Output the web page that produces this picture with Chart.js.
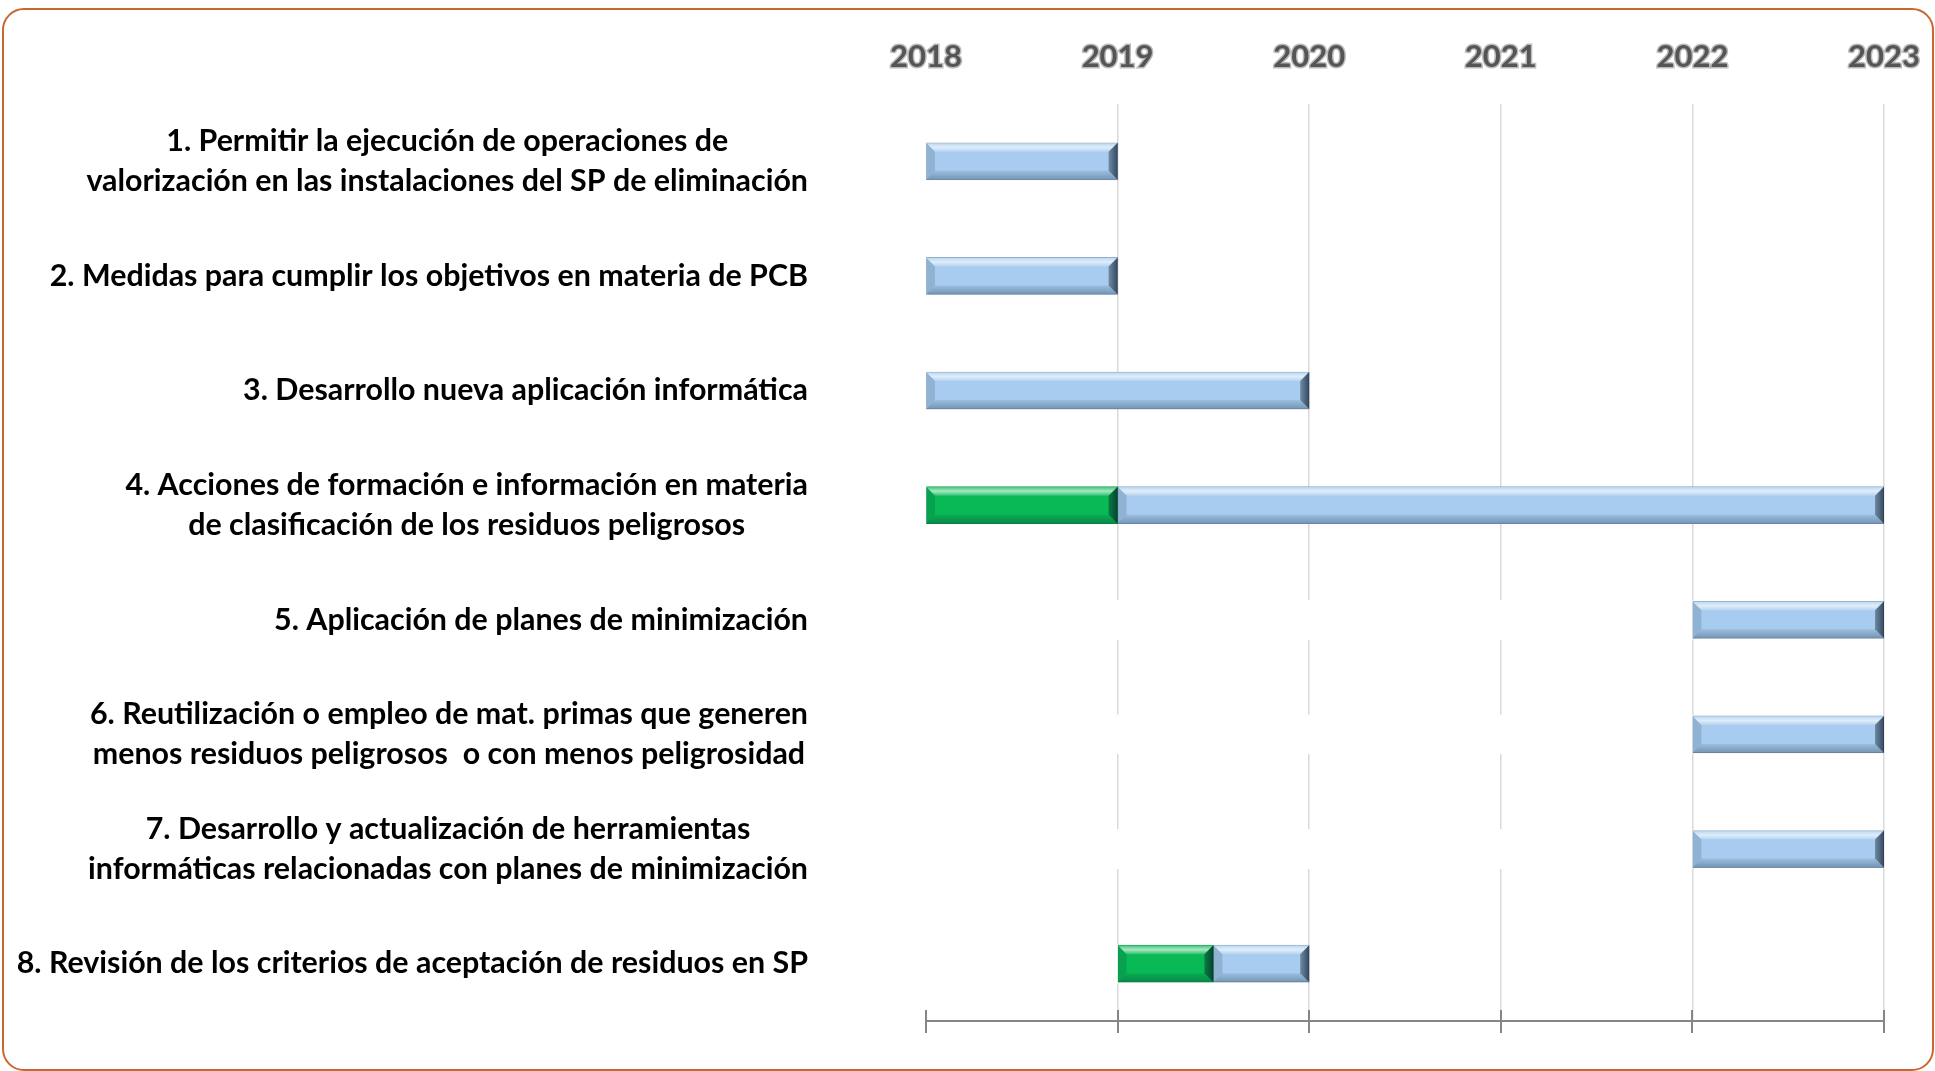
<!DOCTYPE html>
<html>
<head>
<meta charset="utf-8">
<script src="https://cdn.jsdelivr.net/npm/chart.js@4.4.1/dist/chart.umd.min.js"></script>
<style>
  html, body { margin: 0; padding: 0; background: #fff; overflow: hidden; }
  #wrap { position: relative; width: 1935px; height: 1071px; }
  #frame { position: absolute; left: 2px; top: 8px; width: 1928px; height: 1059px;
           border: 2.5px solid #c8672e; border-radius: 22px; pointer-events: none; }
  canvas { position: absolute; left: 0; top: 0; }
</style>
</head>
<body>
<div id="wrap">
  <canvas id="myChart" width="1935" height="1071"></canvas>
  <div id="frame"></div>
</div>
<script>
// Rows of the plan (multi-line labels as arrays)
const tasks = [
  ['1. Permitir la ejecución de operaciones de', 'valorización en las instalaciones del SP de eliminación'],
  ['2. Medidas para cumplir los objetivos en materia de PCB'],
  ['3. Desarrollo nueva aplicación informática'],
  ['4. Acciones de formación e información en materia', 'de clasificación de los residuos peligrosos'],
  ['5. Aplicación de planes de minimización'],
  ['6. Reutilización o empleo de mat. primas que generen', 'menos residuos peligrosos  o con menos peligrosidad'],
  ['7. Desarrollo y actualización de herramientas', 'informáticas relacionadas con planes de minimización'],
  ['8. Revisión de los criterios de aceptación de residuos en SP']
];
const years = ['2018', '2019', '2020', '2021', '2022', '2023'];

// hidden (white) offset bar, starts at 2018
const offsetEnd = [2018, 2018, 2018, 2018, 2022, 2022, 2022, 2019];
// green part
const greenStart = [null, null, null, 2018, null, null, null, 2019];
const greenEnd   = [null, null, null, 2019, null, null, null, 2019.5];
// blue part
const blueStart = [2018, 2018, 2018, 2019, 2022, 2022, 2022, 2019.5];
const blueEnd   = [2019, 2019, 2020, 2023, 2023, 2023, 2023, 2020];

const labelRight = 808;
const labelFont = 'bold 30.4px Lato';
const labelLineH = 39.5;

// row labels: right aligned block, lines centered inside block
const rowLabels = {
  id: 'rowLabels',
  afterDraw(chart) {
    const c = chart.ctx, ys = chart.scales.y;
    c.save();
    c.font = labelFont;
    c.fillStyle = '#000';
    c.textAlign = 'center';
    c.textBaseline = 'middle';
    tasks.forEach((lines, i) => {
      const w = Math.max(...lines.map(l => c.measureText(l).width));
      const cx = labelRight - w / 2;
      const cy = ys.getPixelForValue(i);
      lines.forEach((l, j) => {
        c.fillText(l, cx, cy + (j - (lines.length - 1) / 2) * labelLineH);
      });
    });
    c.restore();
  }
};

// bottom axis tick marks crossing the axis line
const crossTicks = {
  id: 'crossTicks',
  afterDraw(chart) {
    const c = chart.ctx, xs = chart.scales.x2, bottom = chart.chartArea.bottom;
    c.save();
    c.strokeStyle = '#868686';
    c.lineWidth = 2;
    xs.ticks.forEach(t => {
      const px = Math.round(xs.getPixelForValue(t.value));
      c.beginPath();
      c.moveTo(px, bottom - 11);
      c.lineTo(px, bottom);
      c.stroke();
    });
    c.restore();
  }
};

// bevel look on the coloured bars
const bevel = {
  id: 'bevel',
  afterDatasetsDraw(chart) {
    const c = chart.ctx;
    [1, 2].forEach(di => {
      chart.getDatasetMeta(di).data.forEach(el => {
        const p = el.getProps(['x', 'y', 'base', 'height'], true);
        if (p.x == null || isNaN(p.x) || Math.abs(p.x - p.base) < 2) return;
        const L = Math.min(p.x, p.base), R = Math.max(p.x, p.base);
        const T = p.y - p.height / 2, B = p.y + p.height / 2;
        const b = Math.min(9, (R - L) / 2);
        const poly = (pts, fill) => {
          c.beginPath();
          c.moveTo(pts[0][0], pts[0][1]);
          pts.slice(1).forEach(q => c.lineTo(q[0], q[1]));
          c.closePath();
          c.fillStyle = fill;
          c.fill();
        };
        c.save();
        const g = c.createLinearGradient(0, T, 0, T + b);
        g.addColorStop(0, 'rgba(255,255,255,0.2)');
        g.addColorStop(0.5, 'rgba(255,255,255,0.65)');
        g.addColorStop(1, 'rgba(255,255,255,0.15)');
        poly([[L, T], [R, T], [R - b, T + b], [L + b, T + b]], g);
        const g2 = c.createLinearGradient(0, B - b, 0, B);
        g2.addColorStop(0, 'rgba(10,30,50,0.08)');
        g2.addColorStop(1, 'rgba(10,30,50,0.32)');
        poly([[L, B], [R, B], [R - b, B - b], [L + b, B - b]], g2);
        poly([[L, T], [L + b, T + b], [L + b, B - b], [L, B]], 'rgba(10,30,50,0.14)');
        const g3 = c.createLinearGradient(R - b, 0, R, 0);
        g3.addColorStop(0, 'rgba(5,15,30,0.35)');
        g3.addColorStop(1, 'rgba(5,15,30,0.7)');
        poly([[R, T], [R - b, T + b], [R - b, B - b], [R, B]], g3);
        c.restore();
      });
    });
  }
};

const pairs = (s, e) => s.map((v, i) => (v === null ? null : [v, e[i]]));

const ctx = document.getElementById('myChart').getContext('2d');
const myChart = new Chart(ctx, {
  type: 'bar',
  data: {
    labels: tasks.map(t => t.join(' ')),
    datasets: [{
      label: 'inicio',
      data: offsetEnd.map(v => [2018, v]),
      backgroundColor: '#ffffff',
      borderWidth: 0,
      barThickness: 39,
      grouped: false
    }, {
      label: 'realizado',
      data: pairs(greenStart, greenEnd),
      backgroundColor: '#08b955',
      borderColor: '#0b9a48',
      borderWidth: 1,
      borderSkipped: false,
      barThickness: 37,
      grouped: false
    }, {
      label: 'previsto',
      data: pairs(blueStart, blueEnd),
      backgroundColor: '#a7ccef',
      borderColor: '#86a6c4',
      borderWidth: 1,
      borderSkipped: false,
      barThickness: 37,
      grouped: false
    }]
  },
  options: {
    indexAxis: 'y',
    responsive: false,
    animation: false,
    layout: { padding: { left: 0, right: 51, top: 0, bottom: 0 } },
    plugins: { legend: { display: false }, tooltip: { enabled: false } },
    scales: {
      x: {
        type: 'linear',
        position: 'top',
        min: 2018,
        max: 2023,
        ticks: {
          stepSize: 1,
          padding: 0,
          color: '#555555',
          textStrokeColor: 'rgba(85,85,85,0.4)',
          textStrokeWidth: 3,
          font: { family: 'Lato', size: 31, weight: 'bold' },
          callback: (v, i) => years[i]
        },
        grid: {
          drawTicks: true,
          tickLength: 28,
          tickColor: 'rgba(0,0,0,0)',
          color: c => (c.index === 0 ? 'rgba(0,0,0,0)' : '#d9d9d9'),
          lineWidth: 1.5
        },
        border: { display: false },
        afterFit: s => { s.height = 104; }
      },
      x2: {
        type: 'linear',
        position: 'bottom',
        min: 2018,
        max: 2023,
        ticks: { stepSize: 1, display: false },
        grid: { drawOnChartArea: false, tickLength: 12, color: '#868686', lineWidth: 2 },
        border: { display: true, color: '#868686', width: 2 },
        afterFit: s => { s.height = 50; }
      },
      y: {
        type: 'category',
        ticks: { display: false },
        grid: { display: false },
        border: { display: false },
        afterFit: s => { s.width = 926; }
      }
    }
  },
  plugins: [bevel, crossTicks, rowLabels]
});
</script>
</body>
</html>
